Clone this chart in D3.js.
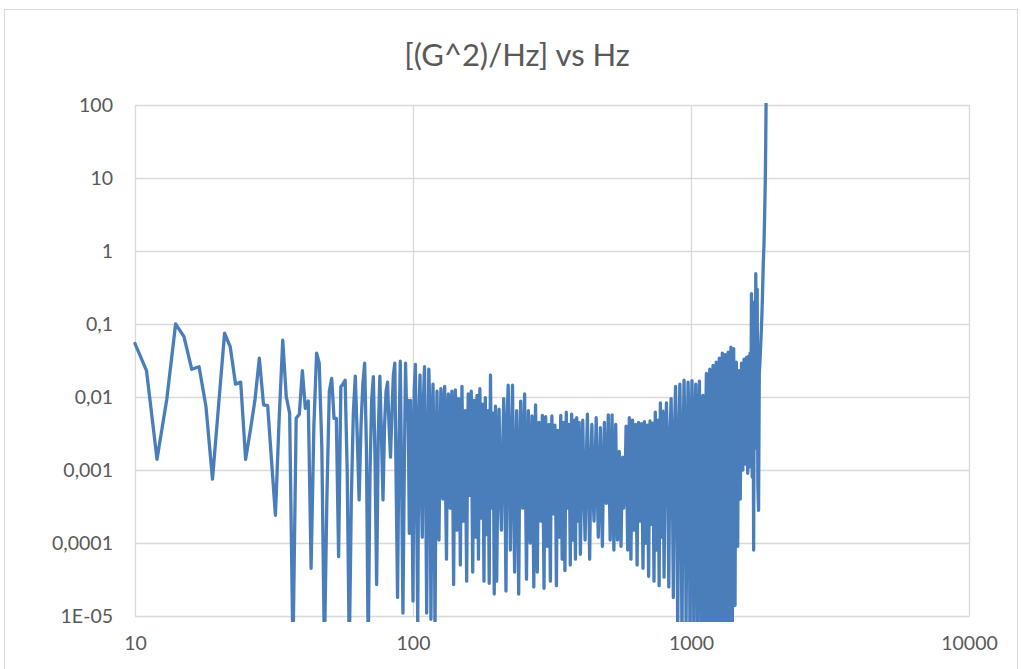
<!DOCTYPE html>
<html>
<head>
<meta charset="utf-8">
<script src="https://cdn.jsdelivr.net/npm/d3@7"></script>
<style>
  body { margin: 0; background: #fff; }
  svg { display: block; font-family: Lato, "Open Sans", sans-serif; }
</style>
</head>
<body>
<svg id="chart" width="1021" height="669"></svg>
<script>
// ---- Chart data -------------------------------------------------------
const chartTitle = "[(G^2)/Hz] vs Hz";

const xTickValues = [10, 100, 1000, 10000];
const xTickLabels = ["10", "100", "1000", "10000"];
const yTickValues = [1e-5, 1e-4, 1e-3, 1e-2, 1e-1, 1, 10, 100];
const yTickLabels = ["1E-05", "0,0001", "0,001", "0,01", "0,1", "1", "10", "100"];

// 10–99 Hz, 1 Hz bins
const hzA = d3.range(10, 100, 1);
const psdA = [
  0.054, 0.023, 0.0014, 0.0091, 0.1, 0.067, 0.024, 0.026, 0.0074, 0.00075,
  0.008, 0.075, 0.049, 0.015, 0.016, 0.0014, 0.0035, 0.009, 0.034, 0.0078,
  0.0076, 0.0013, 0.00024, 0.005, 0.06, 0.0101, 0.006, 3e-6, 0.0051, 0.0058,
  0.023, 0.007, 0.0088, 4.5e-5, 0.004, 0.04, 0.029, 0.002, 3e-6, 0.0004,
  0.012, 0.018, 0.0051, 0.0051, 6.5e-5, 0.0138, 0.015, 0.017, 0.0009, 3e-6,
  0.0004, 0.006, 0.0193, 0.003, 0.00039, 0.004, 0.015, 0.029, 0.002, 3e-6,
  0.0008, 0.009, 0.019, 0.0015, 2.7e-5, 0.003, 0.0193, 0.003, 0.00039, 0.004,
  0.012, 0.016, 0.004, 0.0015, 0.006, 0.02, 0.029, 0.0006, 1.8e-5, 0.002,
  0.031, 0.0008, 1.1e-5, 0.0008, 0.029, 0.005, 0.009, 1.36e-4, 0.009, 0.0009
];

// 100–199 Hz, 1 Hz bins
const hzB = d3.range(100, 200, 1);
const psdB = [
  1.6e-5, 0.012, 0.028, 0.0004, 8e-6, 0.006, 0.02, 0.0007, 1.2e-4, 0.009,
  0.026, 0.0009, 1.1e-5, 0.0016, 0.024, 0.007, 9e-6, 0.0005, 0.015, 0.0018,
  6e-6, 0.0011, 0.012, 0.00035, 1.1e-4, 0.002, 0.013, 0.0013, 4e-4, 0.008,
  0.014, 0.0005, 6e-5, 0.005, 0.011, 0.001, 3e-4, 0.0065, 0.012, 0.0006,
  2.7e-5, 0.0013, 0.0125, 0.006, 1.5e-4, 0.0008, 0.0095, 0.0016, 5e-5, 0.0012,
  0.014, 0.0019, 2e-4, 0.0007, 0.0065, 0.0004, 3e-5, 0.0018, 0.011, 0.0011,
  4.5e-4, 0.005, 0.012, 0.0006, 4e-5, 0.0014, 0.009, 0.0009, 1.2e-4, 0.006,
  0.0105, 0.0008, 6e-5, 0.002, 0.013, 0.0017, 2.2e-4, 0.0012, 0.008, 0.0005,
  3e-5, 0.0015, 0.0098, 0.0012, 1.3e-4, 0.0008, 0.0065, 0.0004, 2.8e-5, 0.0018,
  0.02, 0.0019, 3e-4, 0.001, 0.006, 0.0006, 2e-5, 0.0014, 0.0075, 0.0007
];

// 200–398 Hz, 2 Hz bins
const hzC = d3.range(200, 400, 2);
const psdC = [
  3e-5, 0.0011, 0.0068, 0.0005, 1.5e-4, 0.0016, 0.0095, 0.0009, 2.2e-5, 0.005,
  0.0145, 0.0013, 8e-5, 0.0019, 0.0145, 0.0007, 4e-5, 0.0012, 0.0065, 0.0005,
  2e-5, 0.0015, 0.0088, 0.0009, 3e-4, 0.0022, 0.011, 0.0006, 3.2e-5, 0.0012,
  0.0065, 0.0008, 1e-4, 0.0013, 0.0055, 0.00045, 2.5e-5, 0.0015, 0.0078, 0.0008,
  4e-5, 0.001, 0.0045, 0.0006, 2e-4, 0.0014, 0.0056, 0.0004, 2.4e-5, 0.0012,
  0.0054, 0.0007, 9e-5, 0.001, 0.0042, 0.00035, 3e-5, 0.0011, 0.0055, 0.0005,
  2.5e-4, 0.0009, 0.0041, 0.0005, 2.6e-5, 0.0007, 0.0035, 0.0003, 1.2e-4, 0.0013,
  0.0056, 0.0006, 6e-5, 0.001, 0.0045, 0.0004, 4.2e-5, 0.0011, 0.0062, 0.0006,
  3e-4, 0.0008, 0.0042, 0.00045, 5e-5, 0.0012, 0.0058, 0.0005, 1.1e-4, 0.0009,
  0.0048, 0.0005, 6e-5, 0.001, 0.0052, 0.0007, 2e-4, 0.0009, 0.0045, 0.0004
];

// 400–796 Hz, 4 Hz bins
const hzD = d3.range(400, 800, 4);
const psdD = [
  7e-5, 0.0009, 0.0048, 0.0005, 1.1e-4, 0.0012, 0.0058, 0.0007, 6e-5, 0.001,
  0.0042, 0.0005, 2e-4, 0.0011, 0.0052, 0.0006, 1.2e-4, 0.0008, 0.0038, 0.0004,
  9e-5, 0.0009, 0.0045, 0.0006, 3.5e-4, 0.0013, 0.0057, 0.0007, 1.1e-4, 0.001,
  0.0057, 0.0005, 8e-5, 0.0009, 0.0042, 0.0005, 1.1e-4, 0.0007, 0.0018, 0.0004,
  9e-5, 0.0005, 0.0015, 0.0003, 5e-4, 0.0008, 0.004, 0.0006, 8e-5, 0.001,
  0.0052, 0.0005, 6e-5, 0.0008, 0.0048, 0.00045, 1.5e-4, 0.001, 0.0042, 0.0004,
  5e-5, 0.0007, 0.0045, 0.0005, 2e-4, 0.0009, 0.0043, 0.00035, 4.5e-5, 0.0008,
  0.0046, 0.0005, 1e-4, 0.001, 0.0041, 0.0003, 3.5e-5, 0.0007, 0.0047, 0.0006,
  1.8e-4, 0.0011, 0.0044, 0.0004, 3e-5, 0.0008, 0.0062, 0.0006, 8e-5, 0.0012,
  0.0048, 0.0005, 2.6e-5, 0.001, 0.0083, 0.0007, 1.2e-4, 0.0011, 0.0064, 0.0005
];

// 800–1592 Hz, 8 Hz bins
const hzE = d3.range(800, 1600, 8);
const psdE = [
  3.4e-5, 0.0021, 0.0083, 0.0013, 2.5e-5, 0.0027, 0.0095, 0.0011, 1.8e-5, 0.0032,
  0.014, 0.0009, 6e-6, 0.0024, 0.015, 0.0012, 4e-6, 0.0018, 0.017, 0.0026,
  7e-6, 0.0011, 0.016, 0.0035, 3e-6, 0.0015, 0.0168, 0.0022, 5e-6, 0.0019,
  0.015, 0.0014, 3e-6, 0.0028, 0.0165, 0.0017, 6e-6, 0.0012, 0.0105, 0.0021,
  4e-6, 0.0034, 0.021, 0.0016, 3e-6, 0.0025, 0.024, 0.0019, 5e-6, 0.0038,
  0.027, 0.0022, 4e-6, 0.0031, 0.03, 0.0018, 3e-6, 0.0027, 0.034, 0.0024,
  6e-6, 0.0036, 0.04, 0.0021, 4e-6, 0.0029, 0.038, 0.0023, 3e-6, 0.0033,
  0.041, 0.0026, 5e-6, 0.0039, 0.048, 0.0021, 4e-6, 0.0031, 0.046, 0.0025,
  1.4e-5, 0.0037, 0.03, 0.0028, 9e-5, 0.0042, 0.023, 0.0034, 4e-4, 0.0051,
  0.029, 0.0036, 0.001, 0.0062, 0.033, 0.0044, 0.0012, 0.0058, 0.035, 0.0047
];

// 1600 Hz up to the resonance
const hzF = [
  1600, 1610, 1620, 1630, 1640, 1650, 1660, 1670, 1680, 1690,
  1700, 1710, 1720, 1730, 1740, 1750, 1760, 1770, 1780, 1790,
  1800, 1810, 1820, 1830, 1840, 1850, 1856, 1862, 1868
];
const psdF = [
  0.0009, 0.036, 0.0011, 0.04, 0.0015, 0.26, 0.0008, 0.2, 8e-5, 0.09,
  0.002, 0.49, 0.03, 0.3, 0.0006, 0.00028, 0.02, 0.03, 0.05, 0.08,
  0.14, 0.3, 0.7, 1.2, 3, 9, 25, 100, 400
];

// ---- Layout -----------------------------------------------------------
const svg = d3.select("#chart");
const plot = { left: 135, right: 969, top: 105, bottom: 616 };
const gridColor = "#d9d9d9";
const textColor = "#595959";
const lineColor = "#4a7ebb";

const x = d3.scaleLog().domain([10, 10000]).range([plot.left, plot.right]);
const y = d3.scaleLog().domain([1e-5, 100]).range([plot.bottom, plot.top]);

// chart frame
svg.append("rect")
  .attr("x", 4.5).attr("y", 9.5)
  .attr("width", 1013).attr("height", 680)
  .attr("fill", "#fff").attr("stroke", gridColor);

// title
svg.append("text")
  .attr("x", 517).attr("y", 66)
  .attr("text-anchor", "middle")
  .attr("font-size", 31)
  .attr("fill", textColor)
  .text(chartTitle);

// horizontal gridlines + y labels
const yAxis = d3.axisLeft(y)
  .tickValues(yTickValues)
  .tickFormat((d, i) => yTickLabels[i])
  .tickSize(-(plot.right - plot.left))
  .tickPadding(22);
const gy = svg.append("g")
  .attr("transform", `translate(${plot.left},0)`)
  .call(yAxis);
gy.select(".domain").attr("stroke", gridColor);
gy.selectAll(".tick line").attr("stroke", gridColor).attr("stroke-width", 1.3);
gy.selectAll(".tick text")
  .attr("fill", textColor).attr("font-size", 19.5)
  .attr("font-family", "Lato, sans-serif");

// vertical gridlines + x labels
const xAxis = d3.axisBottom(x)
  .tickValues(xTickValues)
  .tickFormat((d, i) => xTickLabels[i])
  .tickSize(-(plot.bottom - plot.top))
  .tickPadding(20);
const gx = svg.append("g")
  .attr("transform", `translate(0,${plot.bottom})`)
  .call(xAxis);
gx.select(".domain").attr("stroke", gridColor);
gx.selectAll(".tick line").attr("stroke", gridColor).attr("stroke-width", 1.3);
gx.selectAll(".tick text")
  .attr("fill", textColor).attr("font-size", 19.5)
  .attr("font-family", "Lato, sans-serif");

// ---- Series -----------------------------------------------------------
const segments = [
  [hzA, psdA], [hzB, psdB], [hzC, psdC], [hzD, psdD], [hzE, psdE], [hzF, psdF]
];
const series = segments.flatMap(([hz, v]) => hz.map((f, i) => ({ hz: f, psd: v[i] })));

svg.append("clipPath").attr("id", "plotClip")
  .append("rect")
  .attr("x", plot.left - 2).attr("y", plot.top - 2)
  .attr("width", plot.right - plot.left + 4)
  .attr("height", plot.bottom - plot.top + 8);

const line = d3.line()
  .x(d => x(d.hz))
  .y(d => y(d.psd));

svg.append("path")
  .datum(series)
  .attr("clip-path", "url(#plotClip)")
  .attr("fill", "none")
  .attr("stroke", lineColor)
  .attr("stroke-width", 3.3)
  .attr("stroke-linejoin", "round")
  .attr("stroke-linecap", "round")
  .attr("d", line);
</script>
</body>
</html>
